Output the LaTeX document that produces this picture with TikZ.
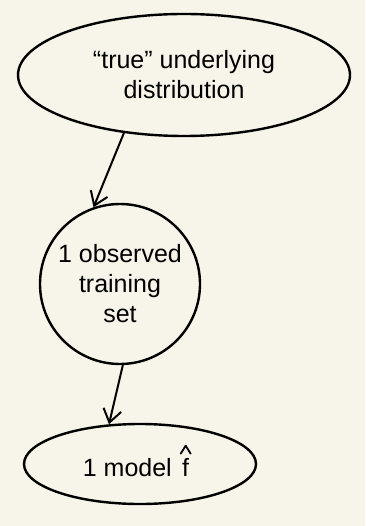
\documentclass[tikz,border=0pt]{standalone}
\usepackage{fontspec}
\setmainfont{Liberation Sans}
\usetikzlibrary{shapes.geometric,arrows.meta}
\definecolor{paper}{HTML}{F7F5E9}
\begin{document}
\begin{tikzpicture}[x=1pt,y=-1pt,
  txt/.style={font=\fontsize{25}{30}\selectfont},
  blob/.style={draw=black,line width=2.4pt,ellipse,inner sep=0pt,align=center,txt},
  conn/.style={draw=black,line width=2pt,-{Straight Barb[length=13pt,width=18pt,line width=2pt]}}]
\fill[paper] (0,0) rectangle (365,526);
\useasboundingbox (0,0) rectangle (365,526);
\node[blob,minimum width=332pt,minimum height=122pt] (dist) at (184,75) {``true'' underlying\\distribution};
\node[blob,circle,minimum size=160pt] (train) at (120,284) {1 observed\\training\\set};
\node[blob,minimum width=232pt,minimum height=80pt] (model) at (140,464) {};
\node[txt,anchor=base east,inner sep=0pt] (mlab) at (172,476) {1 model};
\node[txt,anchor=base west,inner sep=0pt] (fch) at ([xshift=10pt]mlab.base east) {f};
\draw[line width=1.8pt,line join=round,line cap=round] ([xshift=-5pt,yshift=4pt]fch.north) -- ([yshift=12pt]fch.north) -- ([xshift=5pt,yshift=4pt]fch.north);
\draw[conn] (dist.224) -- (train.109);
\draw[conn] (train.272) -- (model.128);
\end{tikzpicture}
\end{document}
